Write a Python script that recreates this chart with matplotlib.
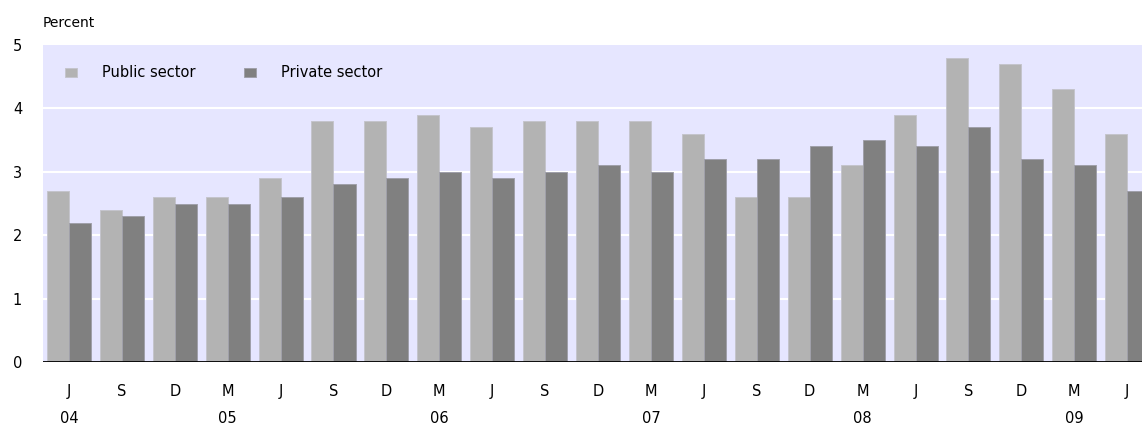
#!/usr/bin/env python
"""Quarterly wage growth, public vs private sector, bar chart."""
import numpy
from matplotlib import pyplot as plt
from matplotlib import transforms

months = ['J', 'S', 'D', 'M', 'J', 'S', 'D', 'M', 'J', 'S', 'D',
          'M', 'J', 'S', 'D', 'M', 'J', 'S', 'D', 'M', 'J']
years = ['04', '05', '06', '07', '08', '09']
year_idx = [0, 3, 7, 11, 15, 19]

public = [2.7, 2.4, 2.6, 2.6, 2.9, 3.8, 3.8, 3.9, 3.7, 3.8, 3.8,
          3.8, 3.6, 2.6, 2.6, 3.1, 3.9, 4.8, 4.7, 4.3, 3.6]
private = [2.2, 2.3, 2.5, 2.5, 2.6, 2.8, 2.9, 3.0, 2.9, 3.0, 3.1,
           3.0, 3.2, 3.2, 3.4, 3.5, 3.4, 3.7, 3.2, 3.1, 2.7]

plt.rcParams['font.family'] = ['DejaVu Sans']
fs = 10.5

fig = plt.figure(figsize=(11.42, 4.25), dpi=100)
ax = fig.add_axes([43 / 1142, 1 - 362 / 425, 1 - 43 / 1142, 317 / 425])
ax.set_facecolor('#e6e6ff')

x = numpy.arange(len(months))
w = 0.416
ax.bar(x - w / 2, public, w, color='#b3b3b3', edgecolor='#c4c4cc',
       linewidth=0.7, label='Public sector', zorder=3)
ax.bar(x + w / 2, private, w, color='#808080', edgecolor='#a0a0aa',
       linewidth=0.7, label='Private sector', zorder=3)

ax.set_ylim(0, 5)
ax.set_xlim(-0.49, 20.28)
ax.set_yticks(range(6))
for y in range(1, 5):
    ax.axhline(y, color='white', linewidth=1.5, zorder=1)
ax.axhline(0, color='black', linewidth=1.3, zorder=4)

for side in ['top', 'right', 'left', 'bottom']:
    ax.spines[side].set_visible(False)

ax.set_xticks(x)
ax.set_xticklabels(months)
ax.tick_params(axis='x', length=0, pad=16, labelsize=fs)
ax.tick_params(axis='y', length=0, pad=15, labelsize=fs)

trans = transforms.blended_transform_factory(ax.transData, ax.transAxes)
for i, yr in zip(year_idx, years):
    ax.text(i, -0.177, yr, transform=trans, ha='center', va='center',
            fontsize=fs)

fig.text(43 / 1142, 1 - 23 / 425, 'Percent', ha='left', va='center',
         fontsize=10)

ax.legend(loc='center left', bbox_to_anchor=(0.02, 0.912), ncol=2,
          frameon=False, fontsize=fs, handlelength=0.85, handleheight=0.55,
          columnspacing=3.3, handletextpad=1.7, borderaxespad=0,
          borderpad=0)

fig.savefig('out.png', dpi=100)
